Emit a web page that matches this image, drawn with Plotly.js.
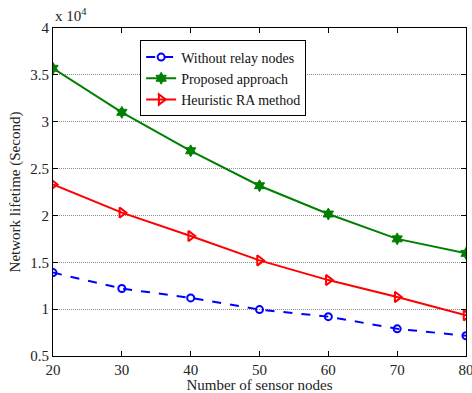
<!DOCTYPE html>
<html>
<head>
<meta charset="utf-8">
<script src="https://cdn.plot.ly/plotly-3.0.1.min.js"></script>
<style>
  html, body { margin: 0; padding: 0; background: #fff; }
  #chart { width: 472px; height: 393px; }
</style>
</head>
<body>
<div id="chart"></div>
<script>
// Network lifetime (seconds) versus number of sensor nodes
const sensorNodes = [20, 30, 40, 50, 60, 70, 80];
const withoutRelay = [13900, 12200, 11200, 9950, 9200, 7900, 7160];
const proposed = [35700, 31000, 26900, 23170, 20150, 17500, 15950];
const heuristicRA = [23300, 20300, 17800, 15200, 13100, 11300, 9340];

const seriesNames = ['Without relay nodes', 'Proposed approach', 'Heuristic RA method'];
const xTicks = [20, 30, 40, 50, 60, 70, 80];
const yTicks = [5000, 10000, 15000, 20000, 25000, 30000, 35000, 40000];
const yTickText = ['0.5', '1', '1.5', '2', '2.5', '3', '3.5', '4'];

const serif = '"Liberation Serif", serif';

const traces = [
  {
    x: sensorNodes, y: withoutRelay, name: seriesNames[0],
    mode: 'lines+markers',
    line: { color: '#0000ff', width: 2, dash: 'dash' },
    marker: { symbol: 'circle-open', size: 7, color: '#0000ff', line: { width: 2, color: '#0000ff' } }
  },
  {
    x: sensorNodes, y: proposed, name: seriesNames[1],
    mode: 'lines+markers',
    line: { color: '#008000', width: 2 },
    marker: { symbol: 'hexagram', size: 9, color: '#008000', line: { width: 1, color: '#008000' } }
  },
  {
    x: sensorNodes, y: heuristicRA, name: seriesNames[2],
    mode: 'lines+markers',
    line: { color: '#ff0000', width: 2 },
    marker: { symbol: 'triangle-right-open', size: 9, color: '#ff0000', line: { width: 2, color: '#ff0000' } }
  }
];

const axisCommon = {
  showline: true, mirror: 'ticks', linecolor: '#000', linewidth: 1,
  ticks: 'inside', ticklen: 5, tickcolor: '#000', tickwidth: 1,
  zeroline: false, ticklabeloverflow: 'allow',
  tickfont: { family: serif, size: 15, color: '#222' }
};

const layout = {
  width: 472, height: 393,
  margin: { l: 53, r: 6, t: 28, b: 37 },
  paper_bgcolor: '#fff', plot_bgcolor: '#fff',
  font: { family: serif, color: '#222' },
  showlegend: true,
  legend: {
    x: 0.211, y: 0.962, xanchor: 'left', yanchor: 'top',
    bgcolor: '#fff', bordercolor: '#000', borderwidth: 1,
    font: { family: serif, size: 14, color: '#111' },
    tracegroupgap: 0, itemwidth: 30
  },
  xaxis: Object.assign({}, axisCommon, {
    range: [20, 80], tickvals: xTicks, showgrid: false,
    title: { text: 'Number of sensor nodes', font: { family: serif, size: 15, color: '#222' }, standoff: 6 }
  }),
  yaxis: Object.assign({}, axisCommon, {
    range: [5000, 40000], tickvals: yTicks, ticktext: yTickText,
    showgrid: true, gridcolor: '#8c8c8c', griddash: '1px,1px', gridwidth: 1,
    title: { text: 'Network lifetime (Second)', font: { family: serif, size: 15, color: '#222' }, standoff: 6 }
  }),
  annotations: [{
    xref: 'paper', yref: 'paper', x: 0, y: 1, xanchor: 'left', yanchor: 'bottom',
    yshift: 2, showarrow: false,
    text: 'x 10<sup>4</sup>', font: { family: serif, size: 15, color: '#222' }
  }]
};

Plotly.newPlot('chart', traces, layout, { displayModeBar: false, staticPlot: true });
</script>
</body>
</html>
